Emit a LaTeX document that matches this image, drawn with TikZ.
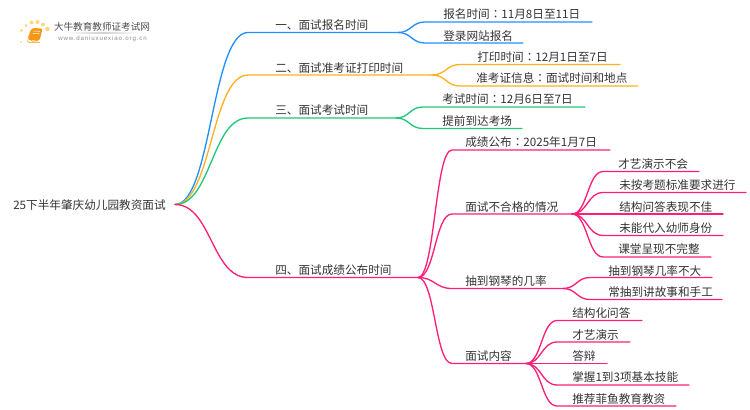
\documentclass[tikz,border=0pt]{standalone}
\usepackage{fontspec}
\setmainfont{Noto Sans CJK SC}
\newfontfamily\urlfont[LetterSpace=14]{Liberation Sans}
\newfontfamily\tcfont{Noto Sans CJK TC}
\newcommand\midcolon{{\tcfont ：}}
\usetikzlibrary{calc}
\definecolor{blueline}{RGB}{32,144,255}
\definecolor{orangeline}{RGB}{255,176,32}
\definecolor{greenline}{RGB}{32,200,120}
\definecolor{pinkline}{RGB}{255,30,120}
\definecolor{inktext}{RGB}{51,51,51}
\definecolor{bookorange}{RGB}{245,150,20}
\definecolor{dotyellow}{RGB}{255,215,120}
\tikzset{
  label/.style={anchor=west,inner sep=0pt,yshift=-0.6pt,text=inktext,font=\fontsize{8.72}{10}\selectfont},
  link/.style={line width=1pt,line cap=round,to path={.. controls ($(\tikztostart)!0.5!(\tikztotarget |- \tikztostart)$) and ($(\tikztotarget)!0.5!(\tikztostart |- \tikztotarget)$) .. (\tikztotarget)}},
  logodot/.style={fill=dotyellow,draw=none},
}
\begin{document}
\begin{tikzpicture}[x=0.75pt,y=0.75pt,yscale=-1,xscale=1]
\useasboundingbox (0,0) rectangle (750,410);
% logo
\fill[logodot] (21,42) circle (1); \fill[logodot] (21.5,30.5) circle (1.5); \fill[logodot] (26,25.5) circle (1.7);
\fill[logodot] (31.5,22.5) circle (2); \fill[logodot] (37.5,22) circle (2); \fill[logodot] (43,24.5) circle (2); \fill[logodot] (47.5,29) circle (2.3);
\draw[bookorange!70!white,fill=white,line width=0.5pt,rounded corners=1] (27.5,40) -- (31,29.5) -- (31,41.5) -- (41,42.5) -- (28,42.5) -- cycle;
\fill[bookorange,rounded corners=1.5] (31.5,28) -- (42.5,28.5) -- (39.5,41) -- (28,40) -- cycle;
\draw[white,line width=0.4pt] (33.5,31) -- (40,31.3) (33,33.5) -- (39.5,33.8);
\node (logotitle) at (102,27) [inner sep=0pt,text=black!70,font=\fontsize{7.2}{9}\selectfont] {大牛教育教师证考试网};
\shade[left color=white,right color=white,middle color=black!18] (66,33) rectangle (140,34);
\node (logourl) at (102.5,39) [inner sep=0pt,text=black!45,font=\urlfont\fontsize{4.6}{6}\selectfont] {www.daniuxuexiao.org.cn};
% root
\node (root) at (13,204) [label] {25下半年肇庆幼儿园教资面试};
\coordinate (rootend) at (175,204.5);
% blue branch
\coordinate (bluea) at (248,32.5); \coordinate (bluefork) at (398,32.5);
\coordinate (blueoa) at (425,22); \coordinate (blueob) at (592,22);
\coordinate (bluepa) at (425,43); \coordinate (bluepb) at (523,43);
\draw[blueline,link] (rootend) to (bluea) -- (bluefork);
\draw[blueline,link] (bluefork) to (blueoa) -- (blueob);
\draw[blueline,link] (bluefork) to (bluepa) -- (bluepb);
\node (blue) at (275,24) [label] {一、面试报名时间};
\node (blueo) at (443,13.5) [label] {报名时间\midcolon 11月8日至11日};
\node (bluep) at (443,35) [label] {登录网站报名};
% orange branch
\coordinate (orangea) at (248,75); \coordinate (orangefork) at (432,75);
\coordinate (orangeoa) at (460,64.5); \coordinate (orangeob) at (620,64.5);
\coordinate (orangepa) at (460,86); \coordinate (orangepb) at (638,86);
\draw[orangeline,link] (rootend) to (orangea) -- (orangefork);
\draw[orangeline,link] (orangefork) to (orangeoa) -- (orangeob);
\draw[orangeline,link] (orangefork) to (orangepa) -- (orangepb);
\node (orange) at (275,67) [label] {二、面试准考证打印时间};
\node (orangeo) at (477,56) [label] {打印时间\midcolon 12月1日至7日};
\node (orangep) at (476,77.5) [label] {准考证信息\midcolon 面试时间和地点};
% green branch
\coordinate (greena) at (248,118); \coordinate (greenfork) at (396,118);
\coordinate (greenoa) at (423,107); \coordinate (greenob) at (585,107);
\coordinate (greenpa) at (423,128.5); \coordinate (greenpb) at (522,128.5);
\draw[greenline,link] (rootend) to (greena) -- (greenfork);
\draw[greenline,link] (greenfork) to (greenoa) -- (greenob);
\draw[greenline,link] (greenfork) to (greenpa) -- (greenpb);
\node (green) at (275,109.5) [label] {三、面试考试时间};
\node (greeno) at (442,98.5) [label] {考试时间\midcolon 12月6日至7日};
\node (greenp) at (442,120) [label] {提前到达考场};
% pink branch
\coordinate (pinka) at (248,277.5); \coordinate (pinkfork) at (418,277.5);
\draw[pinkline,link] (rootend) to (pinka) -- (pinkfork);
\node (pink) at (275,269.5) [label] {四、面试成绩公布时间};
% scores
\coordinate (scorea) at (452,150); \coordinate (scoreb) at (610,150);
\draw[pinkline,link] (pinkfork) to (scorea) -- (scoreb);
\node (score) at (465,141.7) [label] {成绩公布\midcolon 2025年1月7日};
% fail cases
\coordinate (faila) at (452,214); \coordinate (failfork) at (572,214);
\draw[pinkline,link] (pinkfork) to (faila) -- (failfork);
\node (fail) at (465,206) [label] {面试不合格的情况};
\coordinate (failoa) at (603,171.5); \coordinate (failob) at (699,171.5);
\coordinate (failpa) at (603,192.5); \coordinate (failpb) at (746,192.5);
\coordinate (failqa) at (603,214); \coordinate (failqb) at (723,214);
\coordinate (failra) at (603,235.5); \coordinate (failrb) at (723,235.5);
\coordinate (failsa) at (603,257); \coordinate (failsb) at (711,257);
\draw[pinkline,link] (failfork) to (failoa) -- (failob);
\draw[pinkline,link] (failfork) to (failpa) -- (failpb);
\draw[pinkline,link] (failfork) to (failqa) -- (failqb);
\draw[pinkline,link] (failfork) to (failra) -- (failrb);
\draw[pinkline,link] (failfork) to (failsa) -- (failsb);
\node (failo) at (618,163) [label] {才艺演示不会};
\node (failp) at (619,184.5) [label] {未按考题标准要求进行};
\node (failq) at (619,206) [label] {结构问答表现不佳};
\node (failr) at (619,227) [label] {未能代入幼师身份};
\node (fails) at (618,248) [label] {课堂呈现不完整};
% piano
\coordinate (pianoa) at (452,288.5); \coordinate (pianofork) at (563,288.5);
\draw[pinkline,link] (pinkfork) to (pianoa) -- (pianofork);
\node (piano) at (465,280) [label] {抽到钢琴的几率};
\coordinate (pianooa) at (590,277.5); \coordinate (pianoob) at (712,277.5);
\coordinate (pianopa) at (590,299.5); \coordinate (pianopb) at (722,299.5);
\draw[pinkline,link] (pianofork) to (pianooa) -- (pianoob);
\draw[pinkline,link] (pianofork) to (pianopa) -- (pianopb);
\node (pianoo) at (608,270) [label] {抽到钢琴几率不大};
\node (pianop) at (608,291.5) [label] {常抽到讲故事和手工};
% content
\coordinate (contenta) at (452,363.5); \coordinate (contentfork) at (526,363.5);
\draw[pinkline,link] (pinkfork) to (contenta) -- (contentfork);
\node (content) at (465,355.5) [label] {面试内容};
\coordinate (contentoa) at (557,320.5); \coordinate (contentob) at (642,320.5);
\coordinate (contentpa) at (557,342); \coordinate (contentpb) at (630,342);
\coordinate (contentqa) at (557,363.5); \coordinate (contentqb) at (607,363.5);
\coordinate (contentra) at (557,385); \coordinate (contentrb) at (689,385);
\coordinate (contentsa) at (557,406); \coordinate (contentsb) at (676,406);
\draw[pinkline,link] (contentfork) to (contentoa) -- (contentob);
\draw[pinkline,link] (contentfork) to (contentpa) -- (contentpb);
\draw[pinkline,link] (contentfork) to (contentqa) -- (contentqb);
\draw[pinkline,link] (contentfork) to (contentra) -- (contentrb);
\draw[pinkline,link] (contentfork) to (contentsa) -- (contentsb);
\node (contento) at (572,312) [label] {结构化问答};
\node (contentp) at (572,334) [label] {才艺演示};
\node (contentq) at (572,355) [label] {答辩};
\node (contentr) at (572,376.5) [label] {掌握1到3项基本技能};
\node (contents) at (572,398) [label] {推荐菲鱼教育教资};
\end{tikzpicture}
\end{document}
